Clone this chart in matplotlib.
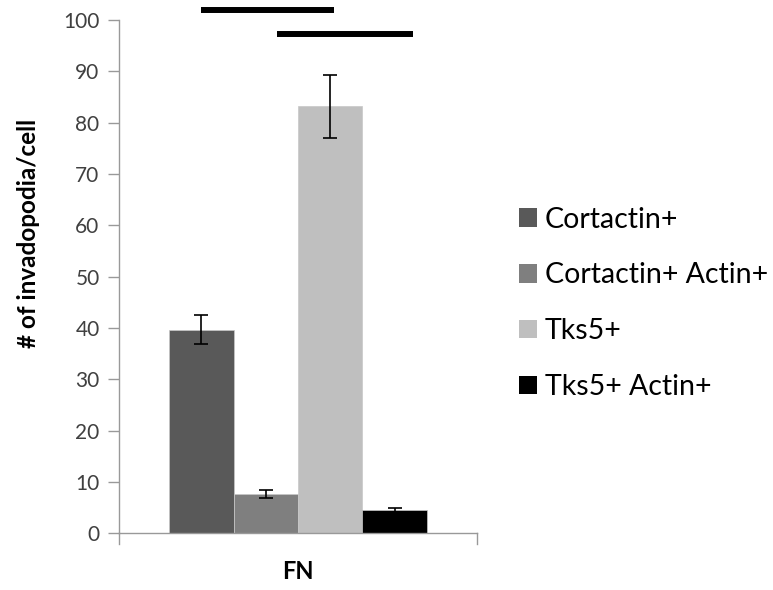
import matplotlib.pyplot as plt
from matplotlib.patches import Patch

# data
series = ['Cortactin+', 'Cortactin+ Actin+', 'Tks5+', 'Tks5+ Actin+']
values = [39.7, 7.7, 83.2, 4.5]
errors = [2.8, 0.8, 6.1, 0.4]
colors = ['#595959', '#7f7f7f', '#bfbfbf', '#000000']
category = 'FN'
# significance bars: (x start, x end, height) in data units
sig_lines = [(-0.27, 0.10, 101.9), (-0.06, 0.32, 97.2)]

plt.rcParams['font.family'] = ['Lato', 'DejaVu Sans']

fig = plt.figure(figsize=(7.73, 5.9), dpi=100)
ax = fig.add_axes([0.154, 0.096, 0.463, 0.870])

w = 0.18
xs = [(i - 1.5) * w for i in range(len(series))]
for x, v, e, c, s in zip(xs, values, errors, colors, series):
    ax.bar(x, v, width=w, color=c, edgecolor='#c8c8c8', linewidth=0.5, label=s, zorder=2)
    ax.errorbar(x, v, yerr=e, fmt='none', ecolor='black', elinewidth=1.2,
                capsize=5, capthick=1.2, zorder=3)

for x0, x1, h in sig_lines:
    ax.plot([x0, x1], [h, h], color='black', lw=4.3,
            solid_capstyle='butt', clip_on=False, zorder=4)

ax.set_xlim(-0.5, 0.5)
ax.set_ylim(0, 100)
ax.set_yticks(range(0, 101, 10))
ax.set_xticks([0])
ax.set_xticklabels([category], fontsize=17, fontweight='bold')
ax.tick_params(axis='y', labelsize=15, labelcolor='#404040', color='#999999',
               length=8, width=1, pad=6)
ax.tick_params(axis='x', length=0, pad=19)
for sp in ['top', 'right']:
    ax.spines[sp].set_visible(False)
for sp in ['left', 'bottom']:
    ax.spines[sp].set_color('#999999')
    ax.spines[sp].set_linewidth(1)
# little downward ticks at the ends of the x axis
for xe in [-0.5, 0.5]:
    ax.plot([xe, xe], [0, -2], color='#999999', lw=1, clip_on=False)

ax.set_ylabel('# of invadopodia/cell', fontsize=17.5, fontweight='bold')
ax.yaxis.set_label_coords(-0.222, 0.585)

handles = [Patch(facecolor=c, edgecolor='none') for c in colors]
fig.legend(handles, series, loc='upper left', bbox_to_anchor=(0.672, 0.65),
           frameon=False, fontsize=20.5, handlelength=0.62, handleheight=0.62,
           handletextpad=0.28, labelspacing=1.05, borderaxespad=0, borderpad=0)

plt.savefig('out.png', format='png')
